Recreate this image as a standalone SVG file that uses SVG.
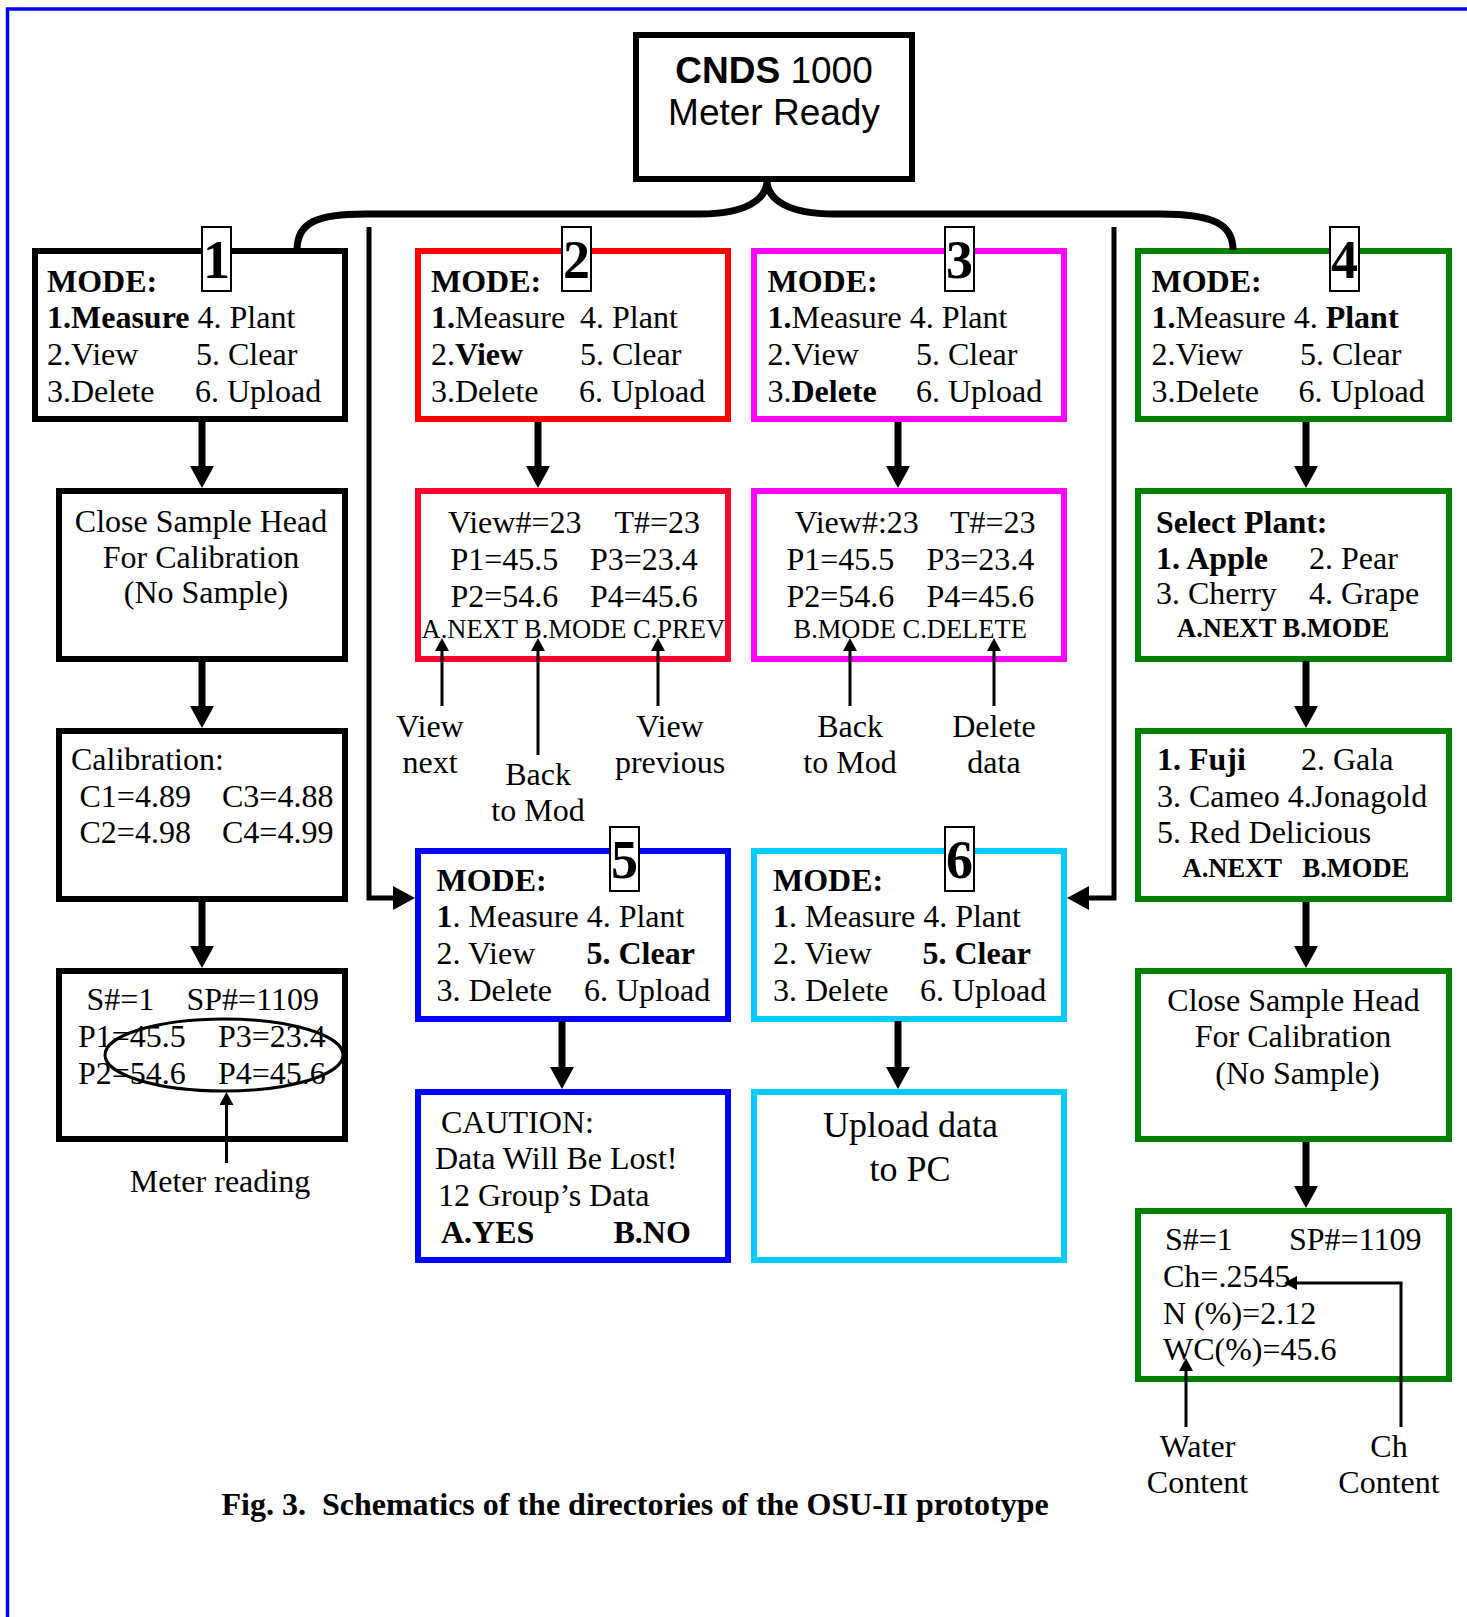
<svg xmlns="http://www.w3.org/2000/svg" width="1467" height="1617" viewBox="0 0 1467 1617">
<style>
.bx{fill:#fff;stroke-width:6}
.k{stroke:#000}.r{stroke:#ff0000}.r2{stroke:#ff0030}.m{stroke:#ff00ff}.g{stroke:#008000}.bl{stroke:#0000ff}.c{stroke:#00ccff}
text{font-family:"Liberation Serif","Times New Roman",serif;font-size:32px;fill:#000}
.b{font-weight:bold}
.s{font-size:26.5px}
.mid{text-anchor:middle}
.sans{font-family:"Liberation Sans",Arial,sans-serif;font-size:37px}
.lbl{fill:#fff;stroke:#000;stroke-width:2}
.num{font-weight:bold;font-size:54px;text-anchor:middle}
.big{fill:none;stroke:#000;stroke-width:7}
.brk{fill:none;stroke:#000;stroke-width:5}
.thin{fill:none;stroke:#000;stroke-width:3}
</style>
<defs>
<marker id="ah" markerUnits="userSpaceOnUse" markerWidth="22" markerHeight="24" viewBox="0 0 22 24" refX="0" refY="12" orient="auto"><path d="M0,0 L22,12 L0,24 z" fill="#000"/></marker>
<marker id="as" markerUnits="userSpaceOnUse" markerWidth="13" markerHeight="14" viewBox="0 0 13 14" refX="0" refY="7" orient="auto"><path d="M0,0 L13,7 L0,14 z" fill="#000"/></marker>
</defs>
<rect x="7.5" y="9" width="1500" height="1700" fill="none" stroke="#0000ff" stroke-width="3.5"/>

<g id="cnds">
<rect class="bx k" x="636" y="35" width="276" height="144"/>
<text class="sans mid" x="774" y="83"><tspan font-weight="bold">CNDS</tspan> 1000</text>
<text class="sans mid" x="774" y="125">Meter Ready</text>
</g>

<g id="mode1">
<rect class="bx k" x="35" y="251" width="310" height="168"/>
<text class="b" x="47" y="292">MODE:</text>
<text x="47" y="328"><tspan class="b">1.Measure</tspan> 4. Plant</text>
<text x="47" y="365">2.View</text><text x="196" y="365">5. Clear</text>
<text x="47" y="401.5">3.Delete</text><text x="195" y="401.5">6. Upload</text>
<rect class="lbl" x="202" y="227" width="29" height="64"/>
<text class="num" x="216.5" y="278">1</text>
</g>

<g id="mode2">
<rect class="bx r" x="418" y="251" width="310" height="168"/>
<text class="b" x="431" y="292">MODE:</text>
<text x="431" y="328"><tspan class="b">1.</tspan>Measure</text><text x="580" y="328">4. Plant</text>
<text x="431" y="365">2.<tspan class="b">View</tspan></text><text x="580" y="365">5. Clear</text>
<text x="431" y="401.5">3.Delete</text><text x="579" y="401.5">6. Upload</text>
<rect class="lbl" x="562" y="227" width="29" height="64"/>
<text class="num" x="576.5" y="278">2</text>
</g>

<g id="mode3">
<rect class="bx m" x="754" y="251" width="310" height="168"/>
<text class="b" x="767.5" y="292">MODE:</text>
<text x="767.5" y="328"><tspan class="b">1.</tspan>Measure 4. Plant</text>
<text x="767.5" y="365">2.View</text><text x="916" y="365">5. Clear</text>
<text x="767.5" y="401.5">3.<tspan class="b">Delete</tspan></text><text x="916" y="401.5">6. Upload</text>
<rect class="lbl" x="945" y="227" width="29" height="64"/>
<text class="num" x="959.5" y="278">3</text>
</g>

<g id="mode4">
<rect class="bx g" x="1138" y="251" width="311" height="168"/>
<text class="b" x="1151.5" y="292">MODE:</text>
<text x="1151.5" y="328"><tspan class="b">1.</tspan>Measure 4. <tspan class="b">Plant</tspan></text>
<text x="1151.5" y="365">2.View</text><text x="1300" y="365">5. Clear</text>
<text x="1151.5" y="401.5">3.Delete</text><text x="1298.5" y="401.5">6. Upload</text>
<rect class="lbl" x="1330" y="227" width="29" height="64"/>
<text class="num" x="1344.5" y="278">4</text>
</g>

<g id="close1">
<rect class="bx k" x="59" y="491" width="286" height="168"/>
<text class="mid" x="201" y="532">Close Sample Head</text>
<text class="mid" x="201" y="568">For Calibration</text>
<text class="mid" x="206" y="603">(No Sample)</text>
</g>

<g id="view2">
<rect class="bx r2" x="418" y="491" width="310" height="168"/>
<text x="448" y="533">View#=23</text><text x="614.5" y="533">T#=23</text>
<text x="450.5" y="570">P1=45.5</text><text x="590" y="570">P3=23.4</text>
<text x="450.5" y="606.5">P2=54.6</text><text x="590" y="606.5">P4=45.6</text>
<text class="s" x="421.5" y="638">A.NEXT B.MODE C.PREV</text>
</g>

<g id="view3">
<rect class="bx m" x="754" y="491" width="310" height="168"/>
<text x="794.5" y="533">View#:23</text><text x="950" y="533">T#=23</text>
<text x="786.5" y="570">P1=45.5</text><text x="926.5" y="570">P3=23.4</text>
<text x="786.5" y="606.5">P2=54.6</text><text x="926.5" y="606.5">P4=45.6</text>
<text class="s" x="793.5" y="638">B.MODE C.DELETE</text>
</g>

<g id="select4">
<rect class="bx g" x="1138" y="491" width="311" height="168"/>
<text class="b" x="1156" y="533">Select Plant:</text>
<text class="b" x="1156" y="569">1. Apple</text><text x="1309" y="569">2. Pear</text>
<text x="1156" y="604">3. Cherry</text><text x="1309" y="604">4. Grape</text>
<text class="b s" x="1177" y="637">A.NEXT B.MODE</text>
</g>

<g id="labels2">
<text class="mid" x="430" y="736.5">View</text><text class="mid" x="430" y="772.5">next</text>
<text class="mid" x="538" y="785">Back</text><text class="mid" x="538" y="820.5">to Mod</text>
<text class="mid" x="670" y="736.5">View</text><text class="mid" x="670" y="772.5">previous</text>
</g>
<g id="labels3">
<text class="mid" x="850" y="736.5">Back</text><text class="mid" x="850" y="772.5">to Mod</text>
<text class="mid" x="994" y="736.5">Delete</text><text class="mid" x="994" y="772.5">data</text>
</g>

<g id="calib1">
<rect class="bx k" x="59" y="731" width="286" height="168"/>
<text x="71" y="770">Calibration:</text>
<text x="79.5" y="806.5">C1=4.89</text><text x="222" y="806.5">C3=4.88</text>
<text x="79.5" y="843">C2=4.98</text><text x="222" y="843">C4=4.99</text>
</g>

<g id="fuji4">
<rect class="bx g" x="1138" y="731" width="311" height="168"/>
<text class="b" x="1157" y="770">1. Fuji</text><text x="1301" y="770">2. Gala</text>
<text x="1157" y="806.5">3. Cameo 4.Jonagold</text>
<text x="1157" y="843">5. Red Delicious</text>
<text class="b s" x="1182.5" y="877">A.NEXT</text><text class="b s" x="1302.5" y="877">B.MODE</text>
</g>

<g id="mode5">
<rect class="bx bl" x="418" y="851" width="310" height="168"/>
<text class="b" x="436.5" y="891">MODE:</text>
<text x="436.5" y="927"><tspan class="b">1</tspan>. Measure 4. Plant</text>
<text x="436.5" y="964">2. View</text><text class="b" x="586.5" y="964">5. Clear</text>
<text x="436.5" y="1001">3. Delete</text><text x="584" y="1001">6. Upload</text>
<rect class="lbl" x="610" y="827" width="29" height="64"/>
<text class="num" x="624.5" y="878">5</text>
</g>

<g id="mode6">
<rect class="bx c" x="754" y="851" width="310" height="168"/>
<text class="b" x="773" y="891">MODE:</text>
<text x="773" y="927"><tspan class="b">1</tspan>. Measure 4. Plant</text>
<text x="773" y="964">2. View</text><text class="b" x="922.5" y="964">5. Clear</text>
<text x="773" y="1001">3. Delete</text><text x="920" y="1001">6. Upload</text>
<rect class="lbl" x="945" y="827" width="29" height="64"/>
<text class="num" x="959.5" y="878">6</text>
</g>

<g id="meter1">
<rect class="bx k" x="59" y="971" width="286" height="168"/>
<text x="86.5" y="1010">S#=1</text><text x="186.5" y="1010">SP#=1109</text>
<text x="78" y="1047">P1=45.5</text><text x="218" y="1047">P3=23.4</text>
<text x="78" y="1084">P2=54.6</text><text x="218" y="1084">P4=45.6</text>
<ellipse cx="224" cy="1055" rx="119" ry="36" fill="none" stroke="#000" stroke-width="3"/>
<text class="mid" x="220" y="1191.5">Meter reading</text>
</g>

<g id="caution5">
<rect class="bx bl" x="418" y="1092" width="310" height="168"/>
<text x="441" y="1132.5">CAUTION:</text>
<text x="435" y="1169">Data Will Be Lost!</text>
<text x="438" y="1206">12 Group’s Data</text>
<text class="b" x="441" y="1242.5">A.YES</text><text class="b" x="613.5" y="1242.5">B.NO</text>
</g>

<g id="upload6">
<rect class="bx c" x="754" y="1092" width="310" height="168"/>
<text class="mid" x="910.5" y="1136.5" style="font-size:36px">Upload data</text>
<text class="mid" x="910" y="1180.5" style="font-size:36px">to PC</text>
</g>

<g id="close4">
<rect class="bx g" x="1138" y="971" width="311" height="168"/>
<text class="mid" x="1293.5" y="1010.5">Close Sample Head</text>
<text class="mid" x="1293" y="1047">For Calibration</text>
<text class="mid" x="1297.5" y="1084">(No Sample)</text>
</g>

<g id="result4">
<rect class="bx g" x="1138" y="1211" width="311" height="168"/>
<text x="1165" y="1250">S#=1</text><text x="1289" y="1250">SP#=1109</text>
<text x="1163" y="1287">Ch=.2545</text>
<text x="1163" y="1323.5">N (%)=2.12</text>
<text x="1163" y="1360">WC(%)=45.6</text>
<text class="mid" x="1197.5" y="1456.5">Water</text><text class="mid" x="1197.5" y="1492.5">Content</text>
<text class="mid" x="1389" y="1456.5">Ch</text><text class="mid" x="1389" y="1492.5">Content</text>
</g>

<text class="b" x="221.5" y="1515">Fig. 3.<tspan dx="16">Schematics of the directories of the OSU-II prototype</tspan></text>

<g id="connectors">
<path class="big" d="M297 250 C297 222 318 214 365 214 L700 214 C745 214 767 200 767 180 C767 200 789 214 834 214 L1160 214 C1215 214 1233 225 1233 250"/>
<path class="big" d="M202 422 V466" marker-end="url(#ah)"/>
<path class="big" d="M202 661 V706" marker-end="url(#ah)"/>
<path class="big" d="M202 902 V946" marker-end="url(#ah)"/>
<path class="big" d="M538 422 V466" marker-end="url(#ah)"/>
<path class="big" d="M898 422 V466" marker-end="url(#ah)"/>
<path class="big" d="M1306 422 V466" marker-end="url(#ah)"/>
<path class="big" d="M1306 661 V706" marker-end="url(#ah)"/>
<path class="big" d="M1306 902 V946" marker-end="url(#ah)"/>
<path class="big" d="M1306 1142 V1186" marker-end="url(#ah)"/>
<path class="big" d="M562 1021 V1067" marker-end="url(#ah)"/>
<path class="big" d="M898 1021 V1067" marker-end="url(#ah)"/>
<path class="brk" d="M369 227 V898 H393" marker-end="url(#ah)"/>
<path class="brk" d="M1114 227 V898 H1089" marker-end="url(#ah)"/>
<path class="thin" d="M442 706 V651" marker-end="url(#as)"/>
<path class="thin" d="M538 755 V651" marker-end="url(#as)"/>
<path class="thin" d="M658 706 V651" marker-end="url(#as)"/>
<path class="thin" d="M850 706 V651" marker-end="url(#as)"/>
<path class="thin" d="M994 706 V651" marker-end="url(#as)"/>
<path class="thin" d="M226.5 1163 V1105" marker-end="url(#as)"/>
<path class="thin" d="M1186 1427 V1371" marker-end="url(#as)"/>
<path class="thin" d="M1401 1427 V1283 H1297" marker-end="url(#as)"/>
</g>
</svg>
